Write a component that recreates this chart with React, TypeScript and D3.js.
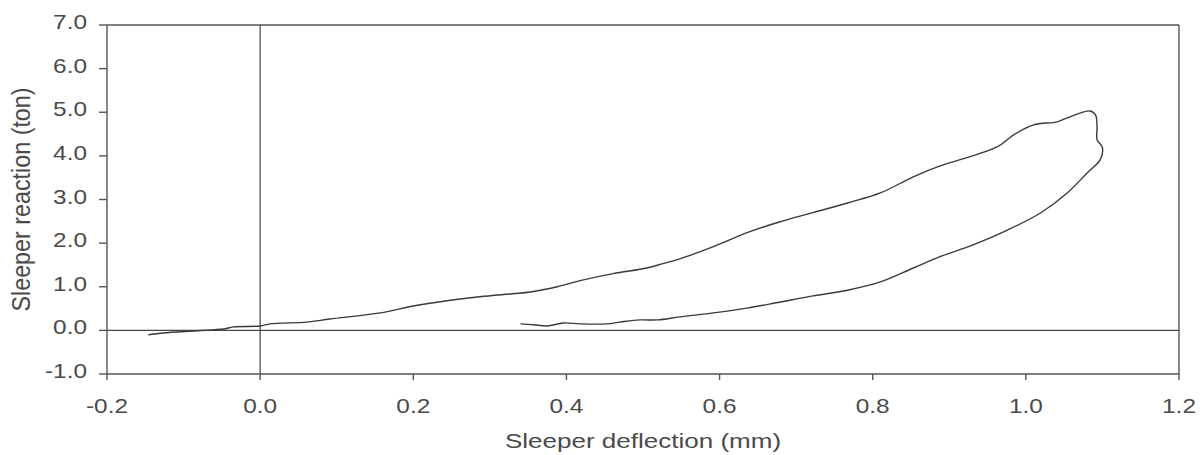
import React from "react";
import * as d3 from "d3";

// Load branch: sleeper deflection (mm) vs reaction (ton)
const loadDeflection = [
  -0.146, -0.127, -0.082, -0.048, -0.035, 0.0, 0.013, 0.061, 0.091, 0.157, 0.2, 0.244, 0.287,
  0.33, 0.353, 0.388, 0.418, 0.461, 0.505, 0.526, 0.548, 0.592, 0.636, 0.679, 0.722, 0.767,
  0.81, 0.853, 0.888, 0.923, 0.963, 0.984, 1.01, 1.041, 1.054, 1.084,
];
const loadReaction = [
  -0.1, -0.06, -0.01, 0.03, 0.08, 0.1, 0.15, 0.19, 0.26, 0.4, 0.56, 0.68, 0.77,
  0.84, 0.88, 1.0, 1.14, 1.3, 1.43, 1.53, 1.64, 1.92, 2.24, 2.49, 2.7, 2.92,
  3.15, 3.52, 3.77, 3.96, 4.21, 4.48, 4.71, 4.78, 4.87, 5.03,
];

// Unload branch, continuing from the peak back down
const unloadDeflection = [
  1.091, 1.093, 1.093, 1.1, 1.097, 1.08, 1.054, 1.019, 0.976, 0.931, 0.888, 0.853, 0.81,
  0.767, 0.722, 0.679, 0.636, 0.592, 0.548, 0.519, 0.496, 0.47, 0.453, 0.418, 0.396,
  0.375, 0.357, 0.34,
];
const unloadReaction = [
  4.94, 4.67, 4.37, 4.19, 3.91, 3.61, 3.15, 2.69, 2.3, 1.96, 1.69, 1.43, 1.11,
  0.92, 0.79, 0.65, 0.51, 0.4, 0.31, 0.24, 0.24, 0.19, 0.15, 0.15, 0.17,
  0.1, 0.13, 0.15,
];

const xTicks = [-0.2, 0.0, 0.2, 0.4, 0.6, 0.8, 1.0, 1.2];
const yTicks = [-1, 0, 1, 2, 3, 4, 5, 6, 7];

const W = 1202;
const H = 455;
const FONT = "'Liberation Sans', Arial, sans-serif";
const AXIS = "#555";
const TEXT = "#4a4a4a";
const SX = 1.22; // horizontal text stretch

// plain hyphen for negative numbers
const locale = d3.formatLocale({
  decimal: ".",
  thousands: ",",
  grouping: [3],
  currency: ["", ""],
  minus: "-",
});
const fmt = locale.format(".1f");

export default function App() {
  const x = d3.scaleLinear().domain([-0.2, 1.2]).range([107, 1179]);
  const y = d3.scaleLinear().domain([-1, 7]).range([374, 25]);

  const pts: [number, number][] = [
    ...loadDeflection.map((d, i) => [d, loadReaction[i]] as [number, number]),
    ...unloadDeflection.map((d, i) => [d, unloadReaction[i]] as [number, number]),
  ];
  const line = d3
    .line<[number, number]>()
    .x((d) => x(d[0]))
    .y((d) => y(d[1]))
    .curve(d3.curveCatmullRom.alpha(0.5));

  const x0 = x(-0.2);
  const x1 = x(1.2);
  const yTop = y(7);
  const yBot = y(-1);

  return (
    <svg
      width={W}
      height={H}
      style={{ position: "absolute", left: 0, top: 0, background: "#fff" }}
    >
      <rect width={W} height={H} fill="#fff" />
      <g stroke={AXIS} strokeWidth={1.4} fill="none">
        {/* frame */}
        <line x1={x0} y1={yTop} x2={x1} y2={yTop} />
        <line x1={x1} y1={yTop} x2={x1} y2={yBot} />
        <line x1={x0} y1={yTop} x2={x0} y2={yBot} />
        <line x1={x0} y1={yBot} x2={x1} y2={yBot} />
        {/* zero lines */}
        <line x1={x0} y1={y(0)} x2={x1} y2={y(0)} strokeWidth={1.2} stroke="#444" />
        <line x1={x(0)} y1={yTop} x2={x(0)} y2={yBot} strokeWidth={1.2} stroke="#444" />
        {/* ticks */}
        {yTicks.map((t) => (
          <line key={"yt" + t} x1={x0 - 8} y1={y(t)} x2={x0} y2={y(t)} />
        ))}
        {xTicks.map((t) => (
          <line key={"xt" + t} x1={x(t)} y1={yBot} x2={x(t)} y2={yBot + 6} />
        ))}
      </g>

      <path d={line(pts) || ""} fill="none" stroke="#3a3a3a" strokeWidth={1.4} />

      <g fontFamily={FONT} fontSize={20} fill={TEXT}>
        {yTicks.map((t) => (
          <text
            key={"yl" + t}
            transform={`translate(87,${y(t) + 4}) scale(${SX},1)`}
            textAnchor="end"
          >
            {fmt(t)}
          </text>
        ))}
        {xTicks.map((t) => (
          <text
            key={"xl" + t}
            transform={`translate(${x(t)},${413}) scale(${SX},1)`}
            textAnchor="middle"
          >
            {fmt(t)}
          </text>
        ))}
        <text
          transform={`translate(${(x0 + x1) / 2},448) scale(1.24,1)`}
          textAnchor="middle"
          fontSize={21}
        >
          Sleeper deflection (mm)
        </text>
        <text
          transform={`translate(30,${(yTop + yBot) / 2}) rotate(-90) scale(1.06,1.2)`}
          textAnchor="middle"
          fontSize={22}
        >
          Sleeper reaction (ton)
        </text>
      </g>
    </svg>
  );
}
